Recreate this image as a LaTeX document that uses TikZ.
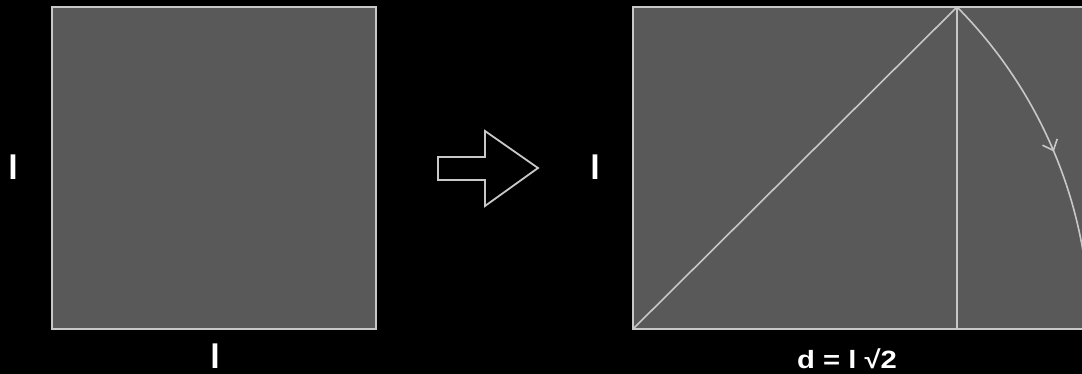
\documentclass[tikz,border=0pt]{standalone}
\usepackage{fontspec}
\setmainfont{Liberation Sans}
\usetikzlibrary{decorations.markings,arrows.meta}
\definecolor{boxfill}{RGB}{89,89,89}
\definecolor{edge}{RGB}{200,200,200}
\begin{document}
\begin{tikzpicture}[x=1pt,y=-1pt,
  sq/.style={draw=edge, fill=boxfill, line width=1.8pt},
  ln/.style={draw=edge, line width=1.6pt},
  biglbl/.style={text=white, font=\bfseries\fontsize{34}{34}\selectfont, inner sep=0pt},
  smlbl/.style={text=white, font=\bfseries\fontsize{25}{25}\selectfont, inner sep=0pt, xscale=1.17},
  arcarrow/.style={ln, postaction={decorate}, decoration={markings,
     mark=at position 0.49 with {\arrow[edge, line width=1.6pt]{Straight Barb[length=9pt,width=16pt]}}}}
]
\fill[black] (0,0) rectangle (1082,374);
\useasboundingbox (0,0) rectangle (1082,374);
\clip (0,0) rectangle (1082,374);
% left square
\coordinate (sqA) at (52,7);
\coordinate (sqB) at (376,329);
\draw[sq] (sqA) rectangle (sqB);
% right rectangle
\coordinate (rA) at (633,7);
\coordinate (rB) at (1090,329);
\coordinate (rBL) at (633,329);
\coordinate (rTop) at (957,7);
\coordinate (rBot) at (957,329);
\draw[sq] (rA) rectangle (rB);
\draw[ln] (rBL) -- (rTop);
\draw[ln] (rTop) -- (rBot);
\draw[arcarrow] (rTop) arc[start angle=-44.8, end angle=0, radius=456.8];
% block arrow
\draw[draw=edge, line width=1.8pt, line join=miter]
  (438,157) -- (485,157) -- (485,131) -- (538,168) -- (485,206) -- (485,180) -- (438,180) -- cycle;
% labels
\node[biglbl] (lLeft) at (13,167) {l};
\node[biglbl] (lBottom) at (215,356) {l};
\node[biglbl] (lRight) at (595,167) {l};
\node[smlbl, anchor=base] (dLabel) at (847,368) {d = l √2};
\end{tikzpicture}
\end{document}
